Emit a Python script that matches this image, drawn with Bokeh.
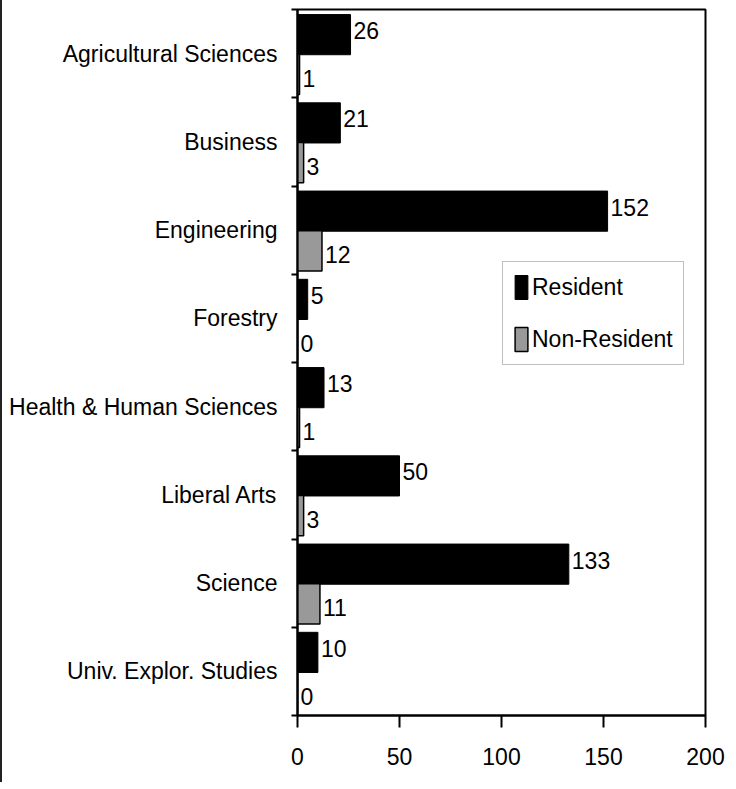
from bokeh.plotting import figure
from bokeh.models import (ColumnDataSource, Range1d, LinearAxis, FixedTicker,
                          Legend, LegendItem, LabelSet)
from bokeh.transform import dodge
from bokeh.core.properties import value
from bokeh.embed import file_html
from bokeh.resources import INLINE

categories = ["Agricultural Sciences", "Business", "Engineering", "Forestry",
              "Health & Human Sciences", "Liberal Arts", "Science", "Univ. Explor. Studies"]
resident = [26, 21, 152, 5, 13, 50, 133, 10]
non_resident = [1, 3, 12, 0, 1, 3, 11, 0]
x_ticks = [0, 50, 100, 150, 200]

FONT = "Liberation Sans"
FS = "23px"

n = len(categories)
ypos = [n - 0.5 - i for i in range(n)]  # category band centres, top to bottom

src = ColumnDataSource(dict(y=ypos, cat=categories, res=resident, nonres=non_resident,
                            res_lbl=[str(v) for v in resident],
                            nonres_lbl=[str(v) for v in non_resident]))

p = figure(width=726, height=782, output_backend="svg", toolbar_location=None,
           y_range=Range1d(0, n), x_range=Range1d(0, 200),
           min_border_left=295, min_border_right=23, min_border_top=9, min_border_bottom=67,
           y_axis_location=None, x_axis_location=None)
p.styles = {"border-left": "2px solid #222222"}
p.grid.visible = False
p.outline_line_color = "black"
p.outline_line_width = 2
p.background_fill_color = "white"
p.border_fill_color = "white"

R_OFF, N_OFF = 0.215, -0.235
r1 = p.hbar(y=dodge("y", R_OFF), right="res", left=0, height=0.455,
            source=src, fill_color="black", line_color="black", line_width=1)
r2 = p.hbar(y=dodge("y", N_OFF), right="nonres", left=0, height=0.455,
            source=src, fill_color="#999999", line_color="black", line_width=1.5)

lab1 = LabelSet(x="res", y=dodge("y", R_OFF), text="res_lbl", source=src,
                x_offset=3, y_offset=4, text_baseline="middle", text_font=value(FONT),
                text_font_size=FS, text_color="black")
lab2 = LabelSet(x="nonres", y=dodge("y", N_OFF), text="nonres_lbl", source=src,
                x_offset=3, y_offset=-4, text_baseline="middle", text_font=value(FONT),
                text_font_size=FS, text_color="black")
p.add_layout(lab1)
p.add_layout(lab2)

# boundary tick axis (nearest frame)
bounds = list(range(n + 1))
tick_axis = LinearAxis(ticker=FixedTicker(ticks=bounds),
                       major_label_overrides={b: "" for b in bounds},
                       major_tick_out=6, major_tick_in=0, minor_tick_line_color=None,
                       major_label_standoff=0,
                       axis_line_color="black", axis_line_width=2, major_tick_line_width=2)
p.add_layout(tick_axis, "left")

cat_axis = LinearAxis(ticker=FixedTicker(ticks=ypos),
                      major_label_overrides={y: c for y, c in zip(ypos, categories)},
                      major_tick_line_color=None, minor_tick_line_color=None, axis_line_color=None,
                      major_label_text_font=FONT, major_label_text_font_size=FS,
                      major_label_standoff=8, major_label_text_color="black")
p.add_layout(cat_axis, "left")

x_axis = LinearAxis(ticker=FixedTicker(ticks=x_ticks), major_tick_out=12, major_tick_in=0,
                    minor_tick_line_color=None, axis_line_width=2, major_tick_line_width=2,
                    major_label_text_font=FONT, major_label_text_font_size=FS,
                    major_label_standoff=20, major_label_text_color="black")
p.add_layout(x_axis, "below")

legend = Legend(items=[LegendItem(label="Resident", renderers=[r1]),
                       LegendItem(label="Non-Resident", renderers=[r2])],
                location=(205, 350), glyph_width=16, glyph_height=30, spacing=22,
                padding=10, margin=0, label_text_font=FONT, label_text_font_size=FS,
                label_text_color="black",
                label_standoff=3, border_line_color="#808080", border_line_width=1,
                background_fill_alpha=1)
p.add_layout(legend, "center")

open("out.html", "w").write(file_html(p, INLINE))
